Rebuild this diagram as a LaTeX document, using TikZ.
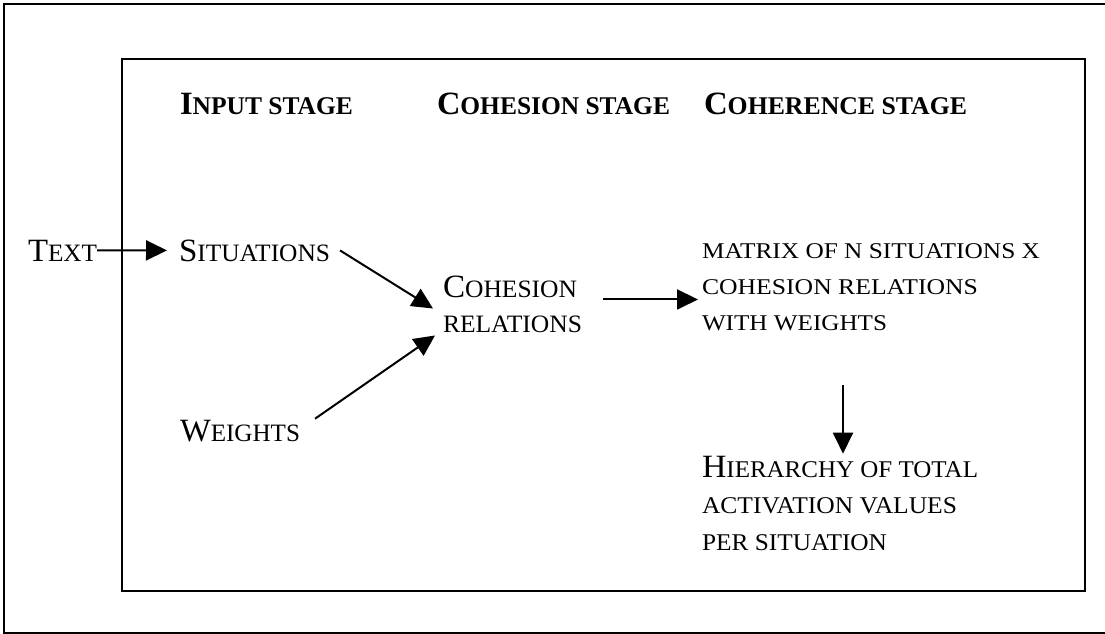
\documentclass[tikz,border=0pt]{standalone}
\usepackage{graphicx}
\usepackage{fontspec}
\setmainfont{Liberation Serif}
\usetikzlibrary{arrows.meta,calc}
\newcommand\BigC[1]{{\fontsize{32.5}{36}\selectfont #1}}
\newcommand\SmC[1]{{\fontsize{25}{36}\selectfont #1}}
\newcommand\SmB[1]{{\fontsize{24}{36}\selectfont #1}}
\newcommand\TnC[1]{{\fontsize{22.5}{36}\selectfont #1}}
\newcommand\HdS[1]{{\fontsize{25.5}{36}\selectfont #1}}
\newcommand\Fit[2]{\hbox{\resizebox{#1}{\height}{#2}}}
\newcommand\Stack[2]{\vtop{\baselineskip=#1\lineskiplimit=-100pt #2}}
\tikzset{
  lbl/.style={anchor=base west, inner sep=0pt, outer sep=0pt},
  arr/.style={line width=2pt, -{Triangle[length=21pt,width=20pt]}},
  frame/.style={line width=2pt}
}
\begin{document}
\begin{tikzpicture}[x=1pt,y=-1pt]
\useasboundingbox (0,0) rectangle (1105,634);
\draw[frame] (4,4) rectangle (1120,633);
\draw[frame] (122,59) rectangle (1085,591);

\node[lbl] (h1) at (180,114) {\bfseries\Fit{173pt}{\BigC{I}\HdS{NPUT STAGE}}};
\node[lbl] (h2) at (437,114) {\bfseries\Fit{233pt}{\BigC{C}\HdS{OHESION STAGE}}};
\node[lbl] (h3) at (704,114) {\bfseries\Fit{263pt}{\BigC{C}\HdS{OHERENCE STAGE}}};

\node[lbl] (txt) at (28,261) {\Fit{69pt}{\BigC{T}\SmC{EXT}}};
\node[lbl] (sit) at (179,261) {\Fit{151pt}{\BigC{S}\SmC{ITUATIONS}}};
\node[lbl] (wts) at (180,441) {\Fit{120pt}{\BigC{W}\SmC{EIGHTS}}};
\node[lbl] (coh) at (443,297) {\Stack{35pt}{\Fit{134pt}{\BigC{C}\SmC{OHESION}}\Fit{139pt}{\SmC{RELATIONS}}}};
\node[lbl] (mat) at (702,258) {\Stack{36pt}{\Fit{338pt}{\TnC{MATRIX OF N SITUATIONS X}}\Fit{276pt}{\TnC{COHESION RELATIONS}}\Fit{185pt}{\TnC{WITH WEIGHTS}}}};
\node[lbl] (hie) at (702,477) {\Stack{36.5pt}{\Fit{276pt}{\BigC{H}\SmB{IERARCHY OF TOTAL}}\Fit{255pt}{\SmB{ACTIVATION VALUES}}\Fit{185pt}{\SmB{PER SITUATION}}}};

\coordinate (c1) at ($(coh.north east)+(21,24)$);
\coordinate (c2) at ($(mat.north west)+(-4,0)$);

\draw[arr, shorten >=12pt] (txt.east) -- (sit.west);
\draw[arr] ($(sit.east)+(10,0)$) -- ($(coh.north west)+(-10,33)$);
\draw[arr] ($(wts.north east)+(15,-1)$) -- ($(coh.north west)+(-8,60)$);
\draw[arr] (c1) -- (c1 -| c2);
\draw[arr] ($(mat.south west)+(141,55)$) -- ($(hie.north west)+(141,-2)$);
\end{tikzpicture}
\end{document}
